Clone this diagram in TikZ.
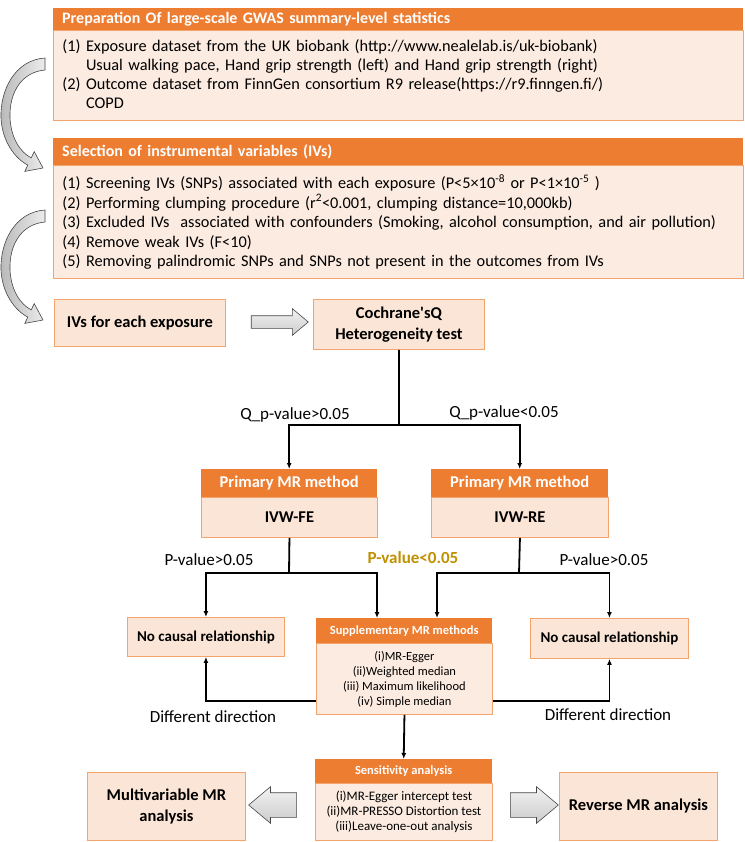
\documentclass[tikz,border=0pt]{standalone}
\usepackage{fontspec}
\setmainfont{Carlito}
\usetikzlibrary{arrows.meta,shapes.arrows}

\definecolor{hdrorange}{HTML}{ED7D31}
\definecolor{peach}{HTML}{FBE5D6}
\definecolor{peachlight}{HTML}{FCEBE1}
\definecolor{edgeorange}{HTML}{F2A46C}
\definecolor{gold}{HTML}{BF9000}

\begin{document}
\begin{tikzpicture}[x=1pt,y=-1pt,
  hdr/.style={fill=hdrorange,text=white,inner sep=0pt,anchor=north west,align=center},
  listbody/.style={fill=peachlight,draw=edgeorange,line width=0.9pt,inner sep=0pt,anchor=north west,align=center},
  stepbox/.style={fill=peach,draw=edgeorange,line width=0.9pt,inner sep=0pt,anchor=north west,align=center,
    font=\bfseries\fontsize{16.5}{21}\selectfont},
  fork/.style={line width=1.8pt},
  flow/.style={line width=1.8pt,-{Latex[length=6pt,width=5pt]}},
  lbl/.style={font=\fontsize{17}{20}\selectfont},
  blockarrow/.style={single arrow,draw=gray!55!black,line width=0.6pt,top color=gray!10,bottom color=gray!40,
    inner xsep=0pt,single arrow tip angle=80},
  curvearrow/.style={draw=gray!55!black,line width=0.6pt,left color=gray!55,right color=gray!15},
]
\useasboundingbox (0,0) rectangle (744,842);

% data preparation
\node[hdr,minimum height=22,text width=672,inner xsep=9pt,align=left,font=\bfseries\fontsize{16}{19}\selectfont]
  (prephdr) at (53,8) {Preparation Of large-scale GWAS summary-level statistics};
\node[listbody,minimum height=90,text width=672,inner xsep=9pt,align=left,font=\fontsize{16.3}{19}\selectfont]
  (prepbody) at (53,30) {(1) Exposure dataset from the UK biobank (http://www.nealelab.is/uk-biobank)\\
  \phantom{(1) }Usual walking pace, Hand grip strength (left) and Hand grip strength (right)\\
  (2) Outcome dataset from FinnGen consortium R9 release(https://r9.finngen.fi/)\\
  \phantom{(2) }COPD};

% selection of IVs
\node[hdr,minimum height=27,text width=672,inner xsep=9pt,align=left,font=\bfseries\fontsize{16}{19}\selectfont]
  (selhdr) at (53,138) {Selection of instrumental variables (IVs)};
\node[listbody,minimum height=113,text width=672,inner xsep=9pt,align=left,font=\fontsize{16.3}{19.5}\selectfont]
  (selbody) at (53,165) {(1) Screening IVs (SNPs) associated with each exposure (P<5×10\textsuperscript{-8} or P<1×10\textsuperscript{-5} )\\
  (2) Performing clumping procedure (r\textsuperscript{2}<0.001, clumping distance=10,000kb)\\
  (3) Excluded IVs\ \ associated with confounders (Smoking, alcohol consumption, and air pollution)\\
  (4) Remove weak IVs (F<10)\\
  (5) Removing palindromic SNPs and SNPs not present in the outcomes from IVs};

% curved arrows on the left
\foreach \dy in {0,152}{
\begin{scope}[shift={(0,\dy)}]
\draw[curvearrow] (45,58) .. controls (15,60) and (0,90) .. (1,118)
  .. controls (2,140) and (14,158) .. (27.8,165.1) -- (24.8,171.4) -- (43,168) -- (34.2,151.6) -- (31.2,157.9)
  .. controls (20,152) and (11,138) .. (10,118) .. controls (9,92) and (22,72) .. (45,70) -- cycle;
\end{scope}
}

\node[stepbox,minimum width=171,minimum height=47] (ivs) at (54,299) {IVs for each exposure};
\node[stepbox,minimum width=171,minimum height=50] (coch) at (313,299) {Cochrane\textquotesingle sQ\\Heterogeneity test};
\node[blockarrow,minimum height=57,inner ysep=6pt,single arrow head extend=7pt] (ivsarrow) at (276,322) {};

% primary methods
\node[hdr,minimum width=176,minimum height=28,font=\bfseries\fontsize{16.5}{19}\selectfont] (fehdr) at (201,469) {Primary MR method};
\node[listbody,minimum width=176,minimum height=40,fill=peach,font=\bfseries\fontsize{16.5}{19}\selectfont] (febody) at (201,497) {IVW-FE};
\node[hdr,minimum width=177,minimum height=28,font=\bfseries\fontsize{16.5}{19}\selectfont] (rehdr) at (431,469) {Primary MR method};
\node[listbody,minimum width=177,minimum height=40,fill=peach,font=\bfseries\fontsize{16.5}{19}\selectfont] (rebody) at (431,497) {IVW-RE};

\coordinate (qsplit) at (399,425);
\draw[fork] (coch.south) -- (qsplit);
\draw[flow] (qsplit) -| (fehdr.north);
\draw[flow] (qsplit) -| (rehdr.north);
\node[lbl] (qlow) at (295,415) {Q\_p-value>0.05};
\node[lbl] (qhigh) at (504,413) {Q\_p-value<0.05};

% supplementary methods
\node[stepbox,minimum width=157,minimum height=39,font=\bfseries\fontsize{15}{18}\selectfont] (nocausall) at (127,617) {No causal relationship};
\node[stepbox,minimum width=158,minimum height=40,font=\bfseries\fontsize{15}{18}\selectfont] (nocausalr) at (530,618) {No causal relationship};
\node[hdr,minimum width=176,minimum height=25,font=\bfseries\fontsize{12.5}{15}\selectfont] (supphdr) at (316,618) {Supplementary MR methods};
\node[listbody,minimum width=176,minimum height=71,font=\fontsize{12.5}{15}\selectfont] (suppbody) at (316,643)
  {(i)MR-Egger\\(ii)Weighted median\\(iii) Maximum likelihood\\(iv) Simple median};

\coordinate (fesplit) at (289,573);
\coordinate (resplit) at (519,573);
\draw[fork] (febody.south) -- (fesplit);
\draw[flow] (fesplit) -| (nocausall.north);
\draw[flow] (fesplit) -| ([xshift=61pt]supphdr.north west);
\draw[fork] (rebody.south) -- (resplit);
\draw[flow] (resplit) -| ([xshift=121pt]supphdr.north west);
\draw[flow] (resplit) -| (nocausalr.north);
\node[lbl] (pfe) at (209,560) {P-value>0.05};
\node[lbl,text=gold,font=\bfseries\fontsize{17}{20}\selectfont] (psig) at (413,558) {P-value<0.05};
\node[lbl] (pre) at (604,560) {P-value>0.05};

\draw[flow] ([yshift=14pt]suppbody.south west) -| (nocausall.south);
\draw[flow] ([yshift=14pt]suppbody.south east) -| (nocausalr.south);
\node[lbl] (dirl) at (213,717) {Different direction};
\node[lbl] (dirr) at (608,715) {Different direction};

% sensitivity analysis
\node[hdr,minimum width=177,minimum height=24,font=\bfseries\fontsize{12.5}{15}\selectfont] (senshdr) at (315,759) {Sensitivity analysis};
\node[listbody,minimum width=177,minimum height=57,font=\fontsize{13}{15}\selectfont] (sensbody) at (315,783)
  {(i)MR-Egger intercept test\\(ii)MR-PRESSO Distortion test\\(iii)Leave-one-out analysis};
\draw[flow] (suppbody.south) -- (senshdr.north);

\node[stepbox,minimum width=158,minimum height=68] (multi) at (87,772) {Multivariable MR\\analysis};
\node[stepbox,minimum width=158,minimum height=68] (reverse) at (559,772) {Reverse MR analysis};
\node[blockarrow,minimum height=48,inner ysep=12pt,single arrow head extend=6pt,shape border rotate=180] (multiarrow) at (280,805) {};
\node[blockarrow,minimum height=48,inner ysep=12pt,single arrow head extend=6pt] (revarrow) at (527,805) {};

\end{tikzpicture}
\end{document}
